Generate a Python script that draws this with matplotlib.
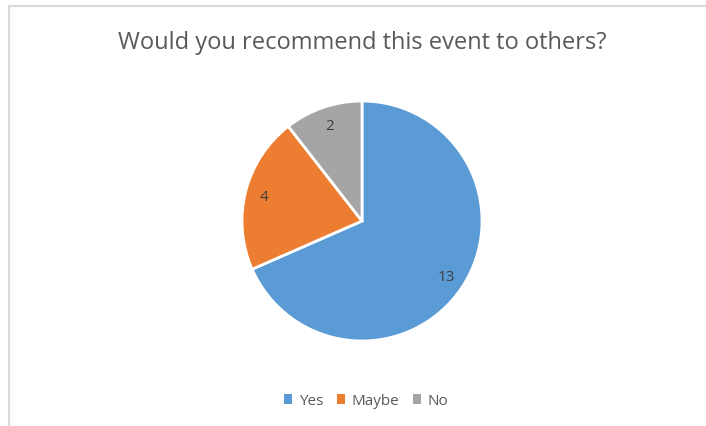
import matplotlib.pyplot as plt
from matplotlib.lines import Line2D
from matplotlib.patches import Patch

labels = ["Yes", "Maybe", "No"]
counts = [13, 4, 2]
colors = ["#5B9BD5", "#ED7D31", "#A5A5A5"]

W, H = 706, 427
fig = plt.figure(figsize=(W / 100, H / 100), dpi=100)
plt.rcParams['font.family'] = ['Open Sans', 'DejaVu Sans']

# chart area border (top and left edges only)
fig.add_artist(Line2D([8.5 / W, 1], [1 - 6.5 / H, 1 - 6.5 / H], color="#D9D9D9", lw=1.5))
fig.add_artist(Line2D([8.5 / W, 8.5 / W], [0, 1 - 6.5 / H], color="#D9D9D9", lw=1.5))

cx, cy, r = 362, 427 - 222, 120
ax = fig.add_axes([(cx - r) / W, (cy - r) / H, 2 * r / W, 2 * r / H])
wedges, texts = ax.pie(counts, colors=colors, startangle=90, counterclock=False,
                       labels=[str(c) for c in counts], labeldistance=0.84,
                       wedgeprops=dict(edgecolor="white", linewidth=2),
                       textprops=dict(color="#404040", fontsize=11))
for t in texts:
    t.set_ha("center")
    t.set_va("center")
ax.set_xlim(-1, 1)
ax.set_ylim(-1, 1)
ax.set_aspect("equal")
ax.axis("off")

fig.text(cx / W, 1 - 43 / H, "Would you recommend this event to others?",
         ha="center", va="center", fontsize=17, color="#595959")

handles = [Patch(facecolor=c, edgecolor="none") for c in colors]
fig.legend(handles, labels, loc="center", bbox_to_anchor=(366 / W, 1 - 402 / H),
           ncol=3, frameon=False, fontsize=11, handlelength=0.55, handleheight=0.55,
           handletextpad=0.4, columnspacing=0.9, labelcolor="#595959")

fig.savefig("out.png", dpi=100, facecolor="white")
